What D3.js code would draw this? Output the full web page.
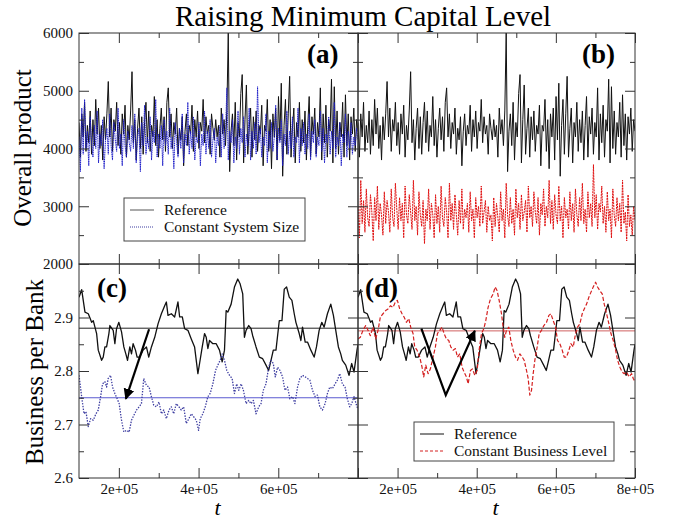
<!DOCTYPE html>
<html>
<head>
<meta charset="utf-8">
<script src="https://cdn.jsdelivr.net/npm/d3@7"></script>
<style>
  body { margin: 0; background: #fff; }
  text { font-family: "Liberation Serif", "Times New Roman", serif; }
</style>
</head>
<body>
<svg id="chart" width="678" height="519"></svg>
<script>
// overall product, sampled every 3500 steps from t = 100000
var tStart = 100000, tStep = 3500;

var refProduct = [
  4450, 3850, 4600, 4200, 4800, 3950, 4400, 4100, 4650, 3900,
  4500, 4050, 4850, 4250, 4700, 4000, 4400, 3800, 4550, 4150,
  4600, 5160, 4200, 4700, 3950, 4500, 4300, 4800, 4050, 4450,
  3900, 4600, 4250, 4750, 3850, 4400, 4150, 4650, 5330, 4100,
  4500, 3800, 4350, 4700, 4000, 4550, 3900, 4450, 4800, 4100,
  4650, 3950, 4400, 4200, 4900, 4050, 4500, 3850, 4350, 4700,
  4150, 4550, 3950, 4800, 5050, 4200, 4600, 4000, 4450, 4250,
  4700, 3900, 4350, 4150, 4550, 3700, 4300, 4600, 4050, 4400,
  4250, 4750, 3950, 4500, 4200, 4650, 4000, 4450, 4300, 4850,
  4100, 4550, 4250, 4400, 3900, 4600, 4350, 4150, 4500, 4200,
  4400, 3850, 4700, 4250, 4500, 4050, 4650, 6000, 3600, 4300,
  4600, 4050, 4800, 3800, 4450, 4200, 4950, 5280, 3750, 4500,
  5100, 3900, 4350, 4700, 3850, 4550, 4150, 4650, 3950, 4400,
  4250, 4750, 3700, 4400, 4300, 4850, 3950, 4500, 3650, 4600,
  4200, 4700, 3800, 4900, 4150, 5130, 3520, 4400, 4850, 3900,
  4600, 5250, 3850, 4350, 4700, 3750, 4450, 4200, 4800, 3950,
  4500, 4100, 4650, 3800, 4400, 4900, 3850, 4550, 4250, 4700,
  3900, 4450, 4200, 5050, 3800, 4600, 4100, 4750, 3850, 4500,
  4300, 5200, 3750, 5070, 4000, 4650, 3900, 4450, 4200, 4800,
  3850, 4930, 4050, 4600, 3800, 4550, 4250, 4700, 3950, 4500, 4300
];

var constSizeProduct = [
  4200, 3600, 4700, 3900, 4850, 4000, 4300, 3700, 4550, 4100,
  3850, 4400, 4000, 4650, 3750, 4250, 4050, 4500, 3650, 4150,
  4350, 3900, 4600, 4050, 3800, 4450, 4150, 3950, 4700, 4000,
  4250, 3700, 4500, 4050, 3850, 4300, 4100, 3950, 4400, 4000,
  4600, 3750, 4200, 4350, 3600, 4450, 4050, 4750, 3900, 4200,
  4000, 4550, 3800, 4300, 4100, 4850, 3850, 4250, 4000, 4400,
  3700, 4500, 4050, 4300, 3900, 4700, 4000, 4200, 3650, 4450,
  4100, 3850, 4350, 4000, 4600, 3750, 4250, 4050, 4800, 3900,
  4300, 4000, 4550, 3800, 4200, 4100, 4450, 3700, 4250, 4050,
  4650, 3900, 4300, 4000, 4500, 3850, 4150, 4350, 3750, 4200,
  4050, 4400, 3850, 4600, 4000, 4250, 5050, 3800, 4300, 4100,
  4500, 3750, 4200, 4000, 4650, 3900, 4350, 4100, 4550, 3850,
  4250, 4050, 4700, 3800, 4300, 4000, 4450, 3900, 5070, 4100,
  4350, 3850, 4200, 4050, 4600, 3750, 4300, 4000, 4450, 3950,
  4200, 4750, 3800, 4350, 4100, 4500, 3700, 4250, 4050, 4650,
  3900, 4300, 4000, 4550, 3850, 4200, 4100, 4700, 3750, 4350,
  4050, 4450, 3900, 4250, 4000, 4600, 3800, 4300, 4100, 4500,
  3850, 4200, 4050, 4650, 3950, 4350, 3750, 4250, 4100, 4550,
  3900, 4300, 4000, 4800, 3850, 4200, 4050, 4450, 3700, 4250,
  4100, 4600, 3850, 4300, 4000, 4450, 3900, 4200, 4050, 4350, 4150
];

var constBusinessProduct = [
  3000, 2450, 3450, 2700, 3100, 2550, 3300, 2800, 2650, 3200,
  2900, 2400, 3150, 2750, 3350, 2600, 3050, 2850, 2500, 3250,
  2700, 3100, 2900, 2550, 3300, 2800, 2650, 3400, 2950, 2600,
  3150, 2750, 3050, 2450, 3350, 2850, 2700, 3200, 2900, 2600,
  3450, 2750, 3000, 2500, 3250, 2850, 2650, 3100, 2350, 2950,
  2750, 3300, 2600, 3050, 2850, 2450, 3200, 2700, 3000, 2550,
  3350, 2800, 2650, 3150, 2900, 2450, 3400, 2750, 3050, 2600,
  3200, 2850, 2500, 3100, 2700, 3300, 2600, 2950, 2800, 3050,
  2550, 3250, 2750, 2950, 2450, 3150, 2800, 3000, 2650, 3350,
  2700, 2900, 3100, 2550, 3000, 2750, 2850, 2400, 3150, 2650,
  3050, 2800, 2550, 3250, 2750, 2950, 2450, 3400, 2850, 2650,
  3150, 2700, 2950, 2500, 3300, 2800, 3050, 2600, 3200, 2750,
  2900, 3100, 2550, 3350, 2800, 3000, 2650, 3250, 2900, 2700,
  3150, 2500, 3050, 2850, 3300, 2650, 3000, 2800, 3450, 2700,
  3100, 2600, 3200, 2850, 2700, 3350, 2750, 3000, 2450, 3150,
  2800, 2950, 2600, 3250, 2750, 3050, 2550, 3300, 2850, 2650,
  3150, 2750, 3400, 2700, 2950, 2550, 3250, 2800, 3050, 2650,
  3720, 2800, 3200, 2600, 3050, 2900, 3350, 2700, 3000, 2550,
  3250, 2750, 2950, 2450, 3300, 2850, 2650, 3150, 2750, 3050,
  2550, 3450, 2700, 2900, 2400, 3200, 2650, 2850, 2500, 3000, 2750
];

// business per bank, [t in thousands, value]
var refBusiness = [
  [100, 2.938], [106.7, 2.952], [115, 2.910], [123.3, 2.907], [131.7, 2.891], [135.8, 2.894],
  [144.2, 2.870], [148.3, 2.839], [156.7, 2.820], [160.8, 2.826], [165, 2.845], [169.2, 2.845],
  [175, 2.870], [177.5, 2.885], [185.8, 2.876], [190, 2.851], [194.2, 2.879], [200, 2.891],
  [206.7, 2.873], [212.5, 2.845], [217.5, 2.832], [221.7, 2.820], [227.5, 2.845], [231.7, 2.832],
  [235.8, 2.851], [241.7, 2.839], [245.8, 2.826], [252.5, 2.826], [260.8, 2.839], [269.2, 2.845],
  [275, 2.826], [281.7, 2.845], [290, 2.863], [298.3, 2.888], [306.7, 2.907], [315, 2.922],
  [319.2, 2.929], [323.3, 2.904], [331.7, 2.907], [340, 2.901], [348.3, 2.929], [352.5, 2.901],
  [359.2, 2.901], [365, 2.879], [373.3, 2.876], [381.7, 2.860], [390, 2.845], [398.3, 2.795],
  [402.5, 2.814], [409.2, 2.845], [415, 2.870], [419.2, 2.863], [423.3, 2.842], [427.5, 2.857],
  [435.8, 2.851], [444.2, 2.851], [452.5, 2.839], [459.2, 2.817], [465, 2.839], [469.2, 2.913],
  [473.3, 2.910], [481.7, 2.925], [490, 2.957], [498.3, 2.972], [504.2, 2.963], [510.8, 2.944],
  [515, 2.863], [519.2, 2.876], [525.8, 2.885], [531.7, 2.879], [535.8, 2.866], [544.2, 2.845],
  [552.5, 2.826], [560.8, 2.823], [569.2, 2.811], [575.8, 2.801], [581.7, 2.820], [587.5, 2.839],
  [594.2, 2.839], [602.5, 2.894], [609.2, 2.894], [615, 2.953], [620.8, 2.957], [627.5, 2.938],
  [634.2, 2.932], [640, 2.907], [644.2, 2.891], [652.5, 2.870], [656.7, 2.857], [660.8, 2.882],
  [667.5, 2.854], [673.3, 2.854], [681.7, 2.839], [690, 2.826], [695.8, 2.845], [702.5, 2.876],
  [709.2, 2.891], [715, 2.882], [723.3, 2.907], [731.7, 2.925], [738.3, 2.904], [744.2, 2.876],
  [750.8, 2.845], [756.7, 2.832], [760.8, 2.820], [769.2, 2.811], [777.5, 2.792], [784.2, 2.814],
  [790, 2.798], [797.5, 2.839], [800, 2.850]
];

var constSizeBusiness = [
  [100, 2.792], [106.7, 2.752], [112.5, 2.720], [117.5, 2.724], [123.3, 2.696], [129.2, 2.711],
  [135.8, 2.708], [142.5, 2.720], [148.3, 2.727], [154.2, 2.752], [159.2, 2.776], [165, 2.780],
  [169.2, 2.770], [173.3, 2.786], [179.2, 2.792], [184.2, 2.770], [190, 2.758], [195.8, 2.748],
  [200.8, 2.739], [206.7, 2.708], [212.5, 2.686], [219.2, 2.689], [225.8, 2.686], [231.7, 2.708],
  [237.5, 2.717], [244.2, 2.727], [250.8, 2.733], [256.7, 2.739], [262.5, 2.786], [269.2, 2.773],
  [275.8, 2.770], [281.7, 2.752], [287.5, 2.736], [294.2, 2.733], [300.8, 2.742], [306.7, 2.720],
  [312.5, 2.727], [319.2, 2.711], [325.8, 2.727], [331.7, 2.733], [337.5, 2.720], [344.2, 2.739],
  [350.8, 2.733], [356.7, 2.727], [362.5, 2.733], [369.2, 2.702], [375.8, 2.711], [381.7, 2.720],
  [388.3, 2.714], [394.2, 2.708], [400, 2.689], [404.2, 2.711], [410.8, 2.720], [416.7, 2.733],
  [423.3, 2.752], [429.2, 2.758], [435.8, 2.776], [442.5, 2.801], [448.3, 2.811], [454.2, 2.820],
  [459.2, 2.832], [465, 2.820], [470.8, 2.801], [477.5, 2.792], [484.2, 2.786], [490, 2.758],
  [495.8, 2.776], [500.8, 2.764], [506.7, 2.776], [512.5, 2.764], [519.2, 2.739], [525.8, 2.745],
  [531.7, 2.739], [537.5, 2.745], [544.2, 2.720], [550.8, 2.733], [556.7, 2.739], [562.5, 2.764],
  [569.2, 2.776], [575.8, 2.807], [581.7, 2.820], [587.5, 2.814], [592.5, 2.789], [598.3, 2.807],
  [604.2, 2.801], [610.8, 2.789], [616.7, 2.764], [623.3, 2.770], [629.2, 2.748], [635.8, 2.752],
  [641.7, 2.739], [648.3, 2.770], [654.2, 2.786], [660.8, 2.792], [667.5, 2.789], [673.3, 2.786],
  [679.2, 2.783], [685.8, 2.764], [692.5, 2.752], [698.3, 2.755], [704.2, 2.733], [710.8, 2.727],
  [717.5, 2.739], [723.3, 2.758], [729.2, 2.770], [735.8, 2.767], [742.5, 2.776], [748.3, 2.783],
  [754.2, 2.795], [760.8, 2.776], [767.5, 2.770], [773.3, 2.748], [779.2, 2.733], [784.2, 2.739],
  [790, 2.752], [797.5, 2.733], [800, 2.730]
];

var constBusinessBusiness = [
  [100, 2.860], [105.9, 2.863], [112.6, 2.876], [119.4, 2.885], [125.3, 2.876], [131.2, 2.866],
  [137.9, 2.882], [144.7, 2.860], [150.6, 2.876], [156.5, 2.901], [163.2, 2.907], [170, 2.913],
  [175.9, 2.916], [181.8, 2.922], [188.5, 2.919], [194.4, 2.929], [199.5, 2.932], [205.4, 2.916],
  [211.3, 2.907], [216.4, 2.901], [222.3, 2.891], [228.2, 2.898], [233.2, 2.882], [239.1, 2.870],
  [243.3, 2.845], [249.2, 2.839], [256, 2.826], [261.9, 2.807], [266.1, 2.789], [271.2, 2.811],
  [277.1, 2.795], [283, 2.804], [289.7, 2.826], [295.6, 2.845], [300.7, 2.870], [306.6, 2.876],
  [312.5, 2.882], [317.5, 2.870], [323.4, 2.860], [329.4, 2.857], [334.4, 2.845], [340.3, 2.839],
  [346.2, 2.842], [351.3, 2.826], [357.2, 2.832], [363.1, 2.807], [368.1, 2.798], [374, 2.789],
  [378.3, 2.776], [384.2, 2.801], [389.2, 2.804], [395.1, 2.792], [401, 2.801], [406.1, 2.839],
  [412, 2.870], [417.9, 2.879], [422.9, 2.894], [428.8, 2.919], [434.8, 2.935], [441.5, 2.944],
  [446.6, 2.957], [451.6, 2.950], [456.7, 2.932], [462.6, 2.907], [466.8, 2.882], [471, 2.863],
  [475.2, 2.876], [481.1, 2.882], [486.2, 2.857], [492.1, 2.839], [498, 2.826], [503.1, 2.820],
  [509, 2.832], [514.9, 2.826], [519.9, 2.820], [525.8, 2.801], [530, 2.786], [534.2, 2.755],
  [538.5, 2.764], [542.7, 2.795], [546.9, 2.820], [552.8, 2.845], [557.9, 2.870], [563.8, 2.876],
  [569.7, 2.885], [576.4, 2.891], [582.3, 2.904], [587.4, 2.907], [593.3, 2.894], [599.2, 2.882],
  [604.2, 2.857], [610.1, 2.851], [616, 2.839], [621.1, 2.826], [627, 2.826], [632.9, 2.839],
  [638, 2.851], [643.9, 2.845], [649.8, 2.870], [654.8, 2.882], [660.7, 2.888], [666.6, 2.907],
  [671.7, 2.916], [677.6, 2.925], [683.5, 2.938], [688.5, 2.947], [694.4, 2.957], [700.4, 2.966],
  [705.4, 2.957], [711.3, 2.950], [717.2, 2.944], [722.3, 2.925], [728.2, 2.907], [734.1, 2.888],
  [739.2, 2.870], [745.1, 2.857], [751, 2.839], [756, 2.820], [761.9, 2.807], [767.8, 2.798],
  [772.9, 2.795], [778.8, 2.798], [784.7, 2.789], [791.4, 2.795], [795.6, 2.786], [800, 2.780]
];

// long-run averages drawn as horizontal lines
var refMean = 2.88, constSizeMean = 2.75, constBusinessMean = 2.875;

// hand drawn arrows, [t in thousands, value]
var arrowC = [[275.8, 2.878], [217.5, 2.748]];
var arrowD = [[260.2, 2.879], [321.8, 2.755], [395.1, 2.875]];

var productTicks = [2000, 3000, 4000, 5000, 6000];
var productMinor = [2500, 3500, 4500, 5500];
var businessTicks = [2.6, 2.7, 2.8, 2.9, 3.0];
var businessMinor = [2.65, 2.75, 2.85, 2.95];
var businessLabels = [2.6, 2.7, 2.8, 2.9];
var timeTicks = [200000, 400000, 600000, 800000];
var timeMinor = [300000, 500000, 700000];

var serif = '"Liberation Serif", "Times New Roman", serif';
var svg = d3.select('#chart');

var left = 79, mid = 358, right = 635;
var top0 = 33, mid0 = 264, bottom = 478;

var xLeft = d3.scaleLinear().domain([100000, 800000]).range([left, mid]);
var xRight = d3.scaleLinear().domain([100000, 800000]).range([mid, right]);
var yProduct = d3.scaleLinear().domain([2000, 6000]).range([mid0, top0]);
var yBusiness = d3.scaleLinear().domain([2.6, 3.0]).range([bottom, mid0]);

var topProduct = function(values) {
  return values.map(function(v, i) { return [tStart + i * tStep, v]; });
};
var inK = function(pairs) {
  return pairs.map(function(p) { return [p[0] * 1000, p[1]]; });
};

// clip each panel
var defs = svg.append('defs');
var panels = [
  { id: 'pa', x: xLeft, y: yProduct },
  { id: 'pb', x: xRight, y: yProduct },
  { id: 'pc', x: xLeft, y: yBusiness },
  { id: 'pd', x: xRight, y: yBusiness }
];
panels.forEach(function(p) {
  var xr = p.x.range(), yr = p.y.range();
  defs.append('clipPath').attr('id', 'clip-' + p.id)
    .append('rect')
    .attr('x', xr[0]).attr('y', yr[1])
    .attr('width', xr[1] - xr[0]).attr('height', yr[0] - yr[1]);
  p.g = svg.append('g').attr('clip-path', 'url(#clip-' + p.id + ')');
});

var drawLine = function(p, data, color, width, dash) {
  var line = d3.line()
    .x(function(d) { return p.x(d[0]); })
    .y(function(d) { return p.y(d[1]); });
  p.g.append('path')
    .datum(data)
    .attr('d', line)
    .attr('fill', 'none')
    .attr('stroke', color)
    .attr('stroke-width', width)
    .attr('stroke-linejoin', 'round')
    .attr('stroke-dasharray', dash || null);
};

var hLine = function(p, v, color) {
  var xr = p.x.range();
  p.g.append('line')
    .attr('x1', xr[0]).attr('x2', xr[1])
    .attr('y1', p.y(v)).attr('y2', p.y(v))
    .attr('stroke', color).attr('stroke-width', 1);
};

// (a)
drawLine(panels[0], topProduct(refProduct), '#111', 1);
drawLine(panels[0], topProduct(constSizeProduct), '#1c1cc8', 1, '1.2,0.6');
// (b)
drawLine(panels[1], topProduct(refProduct), '#111', 1);
drawLine(panels[1], topProduct(constBusinessProduct), '#e01010', 1, '2,0.8');
// (c)
hLine(panels[2], refMean, '#222');
hLine(panels[2], constSizeMean, '#5a5ad0');
drawLine(panels[2], inK(refBusiness), '#111', 1.3);
drawLine(panels[2], inK(constSizeBusiness), '#3c3ca0', 1.3, '1.4,1.4');
// (d)
hLine(panels[3], refMean, '#222');
hLine(panels[3], constBusinessMean, '#d06060');
drawLine(panels[3], inK(refBusiness), '#111', 1.3);
drawLine(panels[3], inK(constBusinessBusiness), '#d42020', 1.2, '4,2');

// arrows
svg.append('defs').append('marker')
  .attr('id', 'head')
  .attr('viewBox', '0 0 10 10')
  .attr('refX', 9).attr('refY', 5)
  .attr('markerWidth', 5).attr('markerHeight', 5)
  .attr('orient', 'auto')
  .append('path').attr('d', 'M0,0L10,5L0,10z').attr('fill', '#000');

var arrowLine = function(p, pts) {
  svg.append('path')
    .datum(inK(pts))
    .attr('d', d3.line().x(function(d) { return p.x(d[0]); }).y(function(d) { return p.y(d[1]); }))
    .attr('fill', 'none')
    .attr('stroke', '#000')
    .attr('stroke-width', 2.2)
    .attr('marker-end', 'url(#head)');
};
arrowLine(panels[2], arrowC);
arrowLine(panels[3], arrowD);

// inward ticks on all four sides of every panel
var tickSet = function(p, yMajor, yMinor) {
  var xr = p.x.range(), yr = p.y.range();
  [[yMajor, 10], [yMinor, 5]].forEach(function(s) {
    svg.append('g').attr('transform', 'translate(' + xr[0] + ',0)')
      .call(d3.axisLeft(p.y).tickValues(s[0]).tickSize(-s[1]).tickFormat(''));
    svg.append('g').attr('transform', 'translate(' + xr[1] + ',0)')
      .call(d3.axisRight(p.y).tickValues(s[0]).tickSize(-s[1]).tickFormat(''));
  });
  [[timeTicks, 10], [timeMinor, 5]].forEach(function(s) {
    svg.append('g').attr('transform', 'translate(0,' + yr[0] + ')')
      .call(d3.axisBottom(p.x).tickValues(s[0]).tickSize(-s[1]).tickFormat(''));
    svg.append('g').attr('transform', 'translate(0,' + yr[1] + ')')
      .call(d3.axisTop(p.x).tickValues(s[0]).tickSize(-s[1]).tickFormat(''));
  });
};
tickSet(panels[0], productTicks, productMinor);
tickSet(panels[1], productTicks, productMinor);
tickSet(panels[2], businessTicks, businessMinor);
tickSet(panels[3], businessTicks, businessMinor);
svg.selectAll('.domain').remove();
svg.selectAll('.tick line').attr('stroke', '#333');

// frames
panels.forEach(function(p) {
  var xr = p.x.range(), yr = p.y.range();
  svg.append('rect')
    .attr('x', xr[0]).attr('y', yr[1])
    .attr('width', xr[1] - xr[0]).attr('height', yr[0] - yr[1])
    .attr('fill', 'none').attr('stroke', '#333').attr('stroke-width', 1);
});

// tick labels
var labelAxis = function(g) {
  g.select('.domain').remove();
  g.attr('font-family', serif).attr('font-size', 15);
  g.selectAll('text').attr('fill', '#111');
};
svg.append('g').attr('transform', 'translate(' + left + ',0)')
  .call(d3.axisLeft(yProduct).tickValues(productTicks).tickSize(0).tickPadding(6).tickFormat(d3.format('d')))
  .call(labelAxis);
svg.append('g').attr('transform', 'translate(' + left + ',0)')
  .call(d3.axisLeft(yBusiness).tickValues(businessLabels).tickSize(0).tickPadding(6).tickFormat(d3.format('.1f')))
  .call(labelAxis);
var sci = function(d) { return (d / 100000) + 'e+05'; };
svg.append('g').attr('transform', 'translate(0,' + bottom + ')')
  .call(d3.axisBottom(xLeft).tickValues([200000, 400000, 600000]).tickSize(0).tickPadding(5).tickFormat(sci))
  .call(labelAxis);
svg.append('g').attr('transform', 'translate(0,' + bottom + ')')
  .call(d3.axisBottom(xRight).tickValues(timeTicks).tickSize(0).tickPadding(5).tickFormat(sci))
  .call(labelAxis);

// titles
svg.append('text')
  .attr('x', 363).attr('y', 26)
  .attr('text-anchor', 'middle')
  .attr('font-size', 29)
  .text('Raising Minimum Capital Level');

svg.append('text')
  .attr('transform', 'translate(31,148) rotate(-90)')
  .attr('text-anchor', 'middle')
  .attr('font-size', 25)
  .text('Overall product');

svg.append('text')
  .attr('transform', 'translate(43,372) rotate(-90)')
  .attr('text-anchor', 'middle')
  .attr('font-size', 25)
  .text('Business per Bank');

[xLeft, xRight].forEach(function(x) {
  svg.append('text')
    .attr('x', (x.range()[0] + x.range()[1]) / 2 - 1).attr('y', 515)
    .attr('text-anchor', 'middle')
    .attr('font-size', 22)
    .attr('font-style', 'italic')
    .text('t');
});

// panel letters
var letters = [['(a)', 307, 63], ['(b)', 582, 63], ['(c)', 97, 297], ['(d)', 365, 297]];
letters.forEach(function(l) {
  svg.append('text')
    .attr('x', l[1]).attr('y', l[2])
    .attr('font-size', 27)
    .attr('font-weight', 'bold')
    .text(l[0]);
});

// legends
var legend = function(x, y, w, h, items) {
  var g = svg.append('g');
  g.append('rect')
    .attr('x', x).attr('y', y).attr('width', w).attr('height', h)
    .attr('fill', '#fff').attr('stroke', '#444').attr('stroke-width', 1);
  items.forEach(function(it, i) {
    var ly = y + 12 + i * 17;
    g.append('line')
      .attr('x1', x + 6).attr('x2', x + 30)
      .attr('y1', ly).attr('y2', ly)
      .attr('stroke', it.color).attr('stroke-width', 1)
      .attr('stroke-dasharray', it.dash || null);
    g.append('text')
      .attr('x', x + 40).attr('y', ly + 5)
      .attr('font-size', 15.5)
      .attr('fill', '#111')
      .text(it.label);
  });
};
legend(124, 198, 181, 43, [
  { label: 'Reference', color: '#555' },
  { label: 'Constant System Size', color: '#3c3ca0', dash: '1,1' }
]);
legend(414, 422, 200, 39, [
  { label: 'Reference', color: '#111' },
  { label: 'Constant Business Level', color: '#d42020', dash: '3,2' }
]);
</script>
</body>
</html>
